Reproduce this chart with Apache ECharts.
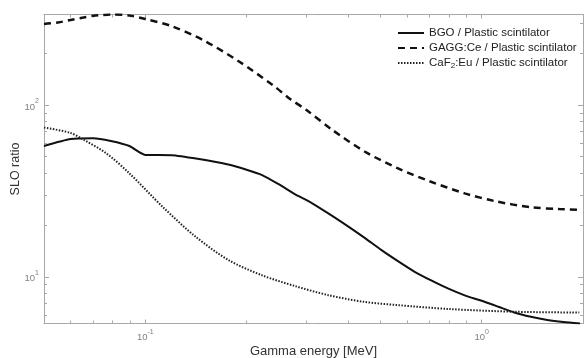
<!DOCTYPE html>
<html>
<head>
<meta charset="utf-8">
<script src="https://cdn.jsdelivr.net/npm/echarts@6/dist/echarts.min.js"></script>
<style>html,body{margin:0;padding:0;background:#fff}#c{width:584px;height:358px}</style>
</head>
<body>
<div id="c"></div>
<script>
// ---- data ----
const seriesNames = ['BGO / Plastic scintilator', 'GAGG:Ce / Plastic scintilator', 'CaF{sub|2}:Eu / Plastic scintilator'];

const bgoE = [0.05, 0.06, 0.07, 0.079, 0.0897, 0.1, 0.12, 0.143, 0.175, 0.2, 0.2225, 0.249, 0.279, 0.3055, 0.35, 0.4015, 0.45, 0.5037, 0.565, 0.632, 0.71, 0.793, 0.89, 1.0, 1.12, 1.249, 1.4, 1.567, 1.75, 1.96];
const bgoV = [57.7, 63.3, 64, 61.7, 57.7, 51.2, 51, 48.6, 45.2, 42, 39.1, 34.6, 30.2, 27.6, 23.4, 19.6, 16.8, 14.3, 12.3, 10.7, 9.5, 8.56, 7.8, 7.25, 6.7, 6.2, 5.85, 5.6, 5.45, 5.35];

const gaggE = [0.05, 0.055, 0.06, 0.065, 0.07, 0.075, 0.08, 0.09, 0.1, 0.12, 0.15, 0.19, 0.24, 0.27, 0.3, 0.36, 0.45, 0.56, 0.7, 0.89, 1.1, 1.4, 1.7, 1.96];
const gaggV = [296, 302, 312, 322, 330, 334, 336, 331, 316, 287, 236, 179, 130, 108, 94, 71.5, 53.4, 43, 36, 30.6, 27.5, 25.4, 24.8, 24.5];

const cafE = [0.05, 0.0596, 0.0652, 0.0765, 0.0897, 0.1125, 0.1412, 0.177, 0.2225, 0.279, 0.35, 0.447, 0.562, 0.794, 1.26, 1.95];
const cafV = [73.8, 69, 63.1, 52.4, 40.0, 25.6, 17.1, 12.5, 10.2, 8.83, 7.82, 7.15, 6.85, 6.5, 6.26, 6.2];

const xMajor = [0.1, 1];
const xMinor = [0.05, 0.06, 0.07, 0.08, 0.09, 0.2, 0.3, 0.4, 0.5, 0.6, 0.7, 0.8, 0.9, 2];
const yMajor = [10, 100];
const yMinor = [6, 7, 8, 9, 20, 30, 40, 50, 60, 70, 80, 90, 200, 300];

const xMin = 0.05, xMax = 2, yMin = 5.35, yMax = 336;

// ---- chart ----
const pairs = (xs, ys) => xs.map((x, i) => [x, ys[i]]);
const axisColor = '#a8a8a8';
const font = 'Liberation Sans, Arial, sans-serif';
const expLabel = v => '{b|10}{e|' + Math.round(Math.log10(v)) + '}';
const labelRich = {
  b: { fontSize: 9.5, color: '#808080', fontFamily: font, verticalAlign: 'bottom', lineHeight: 14 },
  e: { fontSize: 7, color: '#808080', fontFamily: font, verticalAlign: 'top', lineHeight: 14, padding: [0, 0, 6, 0] }
};

function xAx(pos, ticks, len, showLabel, showLine, extra) {
  return Object.assign({
    type: 'log', logBase: 10, min: xMin, max: xMax, position: pos,
    gridIndex: 0,
    axisLine: { show: showLine, onZero: false, lineStyle: { color: axisColor, width: 1 } },
    axisTick: { show: true, inside: true, length: len, customValues: ticks, lineStyle: { color: axisColor } },
    axisLabel: { show: showLabel, customValues: showLabel ? ticks : undefined, formatter: expLabel, rich: labelRich, margin: 5 },
    splitLine: { show: false }, minorTick: { show: false }
  }, extra || {});
}
function yAx(pos, ticks, len, showLabel, showLine, extra) {
  return Object.assign({
    type: 'log', logBase: 10, min: yMin, max: yMax, position: pos,
    gridIndex: 0,
    axisLine: { show: showLine, onZero: false, lineStyle: { color: axisColor, width: 1 } },
    axisTick: { show: true, inside: true, length: len, customValues: ticks, lineStyle: { color: axisColor } },
    axisLabel: { show: showLabel, customValues: showLabel ? ticks : undefined, formatter: expLabel, rich: labelRich, margin: 5 },
    splitLine: { show: false }, minorTick: { show: false }
  }, extra || {});
}

const chart = echarts.init(document.getElementById('c'), null, { renderer: 'canvas' });
chart.setOption({
  animation: false,
  backgroundColor: '#fff',
  grid: { left: 44, right: 1, top: 14.5, bottom: 34.5, containLabel: false, outerBoundsMode: 'none' },
  legend: {
    orient: 'vertical', left: 397, top: 26, itemGap: 1, itemWidth: 26, itemHeight: 14, padding: 0,
    data: seriesNames,
    itemStyle: { opacity: 0 },
    formatter: n => n,
    textStyle: { fontSize: 11.5, color: '#222', fontFamily: font, lineHeight: 14,
      rich: { sub: { fontSize: 8, color: '#222', fontFamily: font, verticalAlign: 'bottom', padding: [7, 0, 0, 0] } } }
  },
  xAxis: [
    xAx('bottom', xMajor, 4, true, true, { name: 'Gamma energy [MeV]', nameLocation: 'middle', nameGap: 21, nameMoveOverlap: false,
      nameTextStyle: { fontSize: 13, color: '#333', fontFamily: font } }),
    xAx('bottom', xMinor, 3, false, false),
    xAx('top', xMajor, 4, false, true),
    xAx('top', xMinor, 3, false, false)
  ],
  yAxis: [
    yAx('left', yMajor, 5, true, true, { name: 'SLO ratio', nameLocation: 'middle', nameGap: 22, nameRotate: 90, nameMoveOverlap: false,
      nameTextStyle: { fontSize: 12.5, color: '#333', fontFamily: font } }),
    yAx('left', yMinor, 3, false, false),
    yAx('right', yMajor, 5, false, true),
    yAx('right', yMinor, 3, false, false)
  ],
  series: [
    { name: seriesNames[0], type: 'line', data: pairs(bgoE, bgoV), showSymbol: false, symbol: 'none', smooth: 0.2,
      lineStyle: { color: '#111', width: 2, type: 'solid' }, itemStyle: { color: '#111' } },
    { name: seriesNames[1], type: 'line', data: pairs(gaggE, gaggV), showSymbol: false, symbol: 'none', smooth: 0.3,
      lineStyle: { color: '#111', width: 2.5, type: [7, 5] }, itemStyle: { color: '#111' } },
    { name: seriesNames[2], type: 'line', data: pairs(cafE, cafV), showSymbol: false, symbol: 'none', smooth: 0.3,
      lineStyle: { color: '#222', width: 2, type: [1.5, 1.5] }, itemStyle: { color: '#222' } }
  ]
});
</script>
</body>
</html>
